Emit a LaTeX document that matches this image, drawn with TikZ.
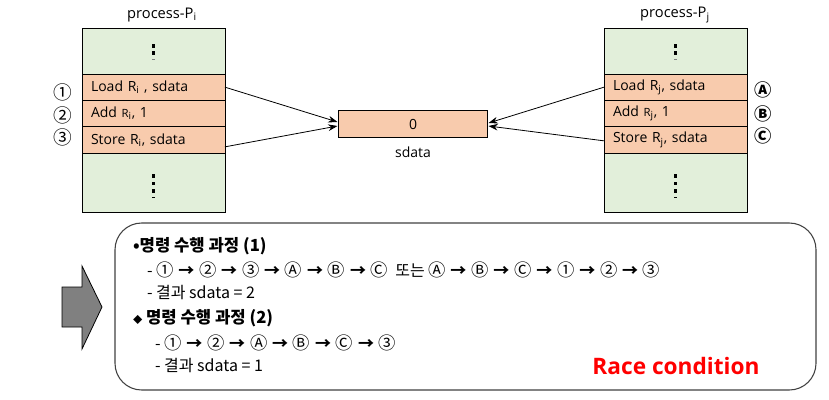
\documentclass[tikz,border=0pt]{standalone}
\usepackage{fontspec}
\setmainfont{Open Sans}
\newfontfamily\kr{Noto Sans CJK KR}
\definecolor{stackfill}{RGB}{226, 239, 218}
\definecolor{instfill}{RGB}{248, 203, 173}
\definecolor{racered}{RGB}{255, 0, 0}
\usetikzlibrary{arrows.meta, positioning, calc}
\newcommand\nx{\hspace{0.3em}{\bfseries →}\hspace{0.3em}}
\newcommand\cc[1]{{\fontsize{13}{12}\selectfont #1}}

\begin{document}
\begin{tikzpicture}[x=0.75pt, y=-0.75pt,
    every node/.style={outer sep=0pt},
    stack/.style={draw, line width=0.6pt, fill=stackfill, minimum width=107.25pt, inner sep=0pt},
    instr/.style={draw, line width=0.6pt, fill=instfill, minimum width=107.25pt, minimum height=19.75pt,
        text width=93.75pt, inner xsep=6.75pt, inner ysep=0pt, align=left, font=\fontsize{10.5}{12}\selectfont},
    order/.style={font=\kr\fontsize{14}{14}\selectfont},
    link/.style={-{Stealth[length=7pt, width=5pt]}, line width=0.6pt},
    step line/.style={anchor=west, inner sep=0pt, font=\kr\fontsize{12}{14}\selectfont}]
    \useasboundingbox (0,0) rectangle (829,400);

    % process P_i
    \node[font=\fontsize{11}{13}\selectfont] (pititle) at (162,15) {process-P\textsubscript{i}};
    \node[stack, minimum height=34.5pt] (pitop) at (153.5,51) {};
    \node[instr, below=0pt of pitop] (piload) {Load R\textsubscript{i} , sdata};
    \node[instr, below=0pt of piload] (piadd) {Add {\fontsize{8.5}{10}\selectfont R}\textsubscript{i}, 1};
    \node[instr, below=0pt of piadd] (pistore) {Store R\textsubscript{i}, sdata};
    \node[stack, minimum height=44.25pt, below=0pt of pistore] (pibot) {};
    \node[order] (o1) at (63,92) {①};
    \node[order] (o2) at (63,115) {②};
    \node[order] (o3) at (63,137) {③};

    % process P_j
    \node[font=\fontsize{11}{13}\selectfont] (pjtitle) at (675,15) {process-P\textsubscript{j}};
    \node[stack, minimum height=34.5pt] (pjtop) at (675.5,51) {};
    \node[instr, below=0pt of pjtop] (pjload) {Load R\textsubscript{j}, sdata};
    \node[instr, below=0pt of pjload] (pjadd) {Add {\fontsize{8.5}{10}\selectfont R}\textsubscript{j}, 1};
    \node[instr, below=0pt of pjadd] (pjstore) {Store R\textsubscript{j}, sdata};
    \node[stack, minimum height=44.25pt, below=0pt of pjstore] (pjbot) {};
    \node[order, font=\kr\bfseries\fontsize{13}{13}\selectfont] (oa) at (763,90) {Ⓐ};
    \node[order, font=\kr\bfseries\fontsize{13}{13}\selectfont] (ob) at (763,114) {Ⓑ};
    \node[order, font=\kr\bfseries\fontsize{13}{13}\selectfont] (oc) at (763,136) {Ⓒ};

    % dots
    \foreach \xx in {153.5, 675.5} {
        \foreach \yy in {46, 53} \fill (\xx-1.6,\yy-1.6) rectangle ++(3.2,3.2);
        \fill[gray] (\xx-1.6,59) rectangle ++(3.2,1.2);
        \foreach \yy in {176, 183.5, 191} \fill (\xx-1.6,\yy-1.6) rectangle ++(3.2,3.2);
        \fill (\xx-1.6,197) rectangle ++(3.2,1.2);
    }

    % shared data
    \node[instr, minimum width=111.75pt, text width=98.25pt, minimum height=20.25pt, align=center] (sd) at (413,124) {0};
    \node[below=4pt of sd, font=\fontsize{10.5}{12}\selectfont] (sdlabel) {sdata};

    \draw[link] (piload.east) -- ($(sd.west)+(-1,-2)$);
    \draw[link] ($(pistore.east)+(0,7)$) -- ($(sd.west)+(-1,2)$);
    \draw[link] (pjload.west) -- ($(sd.east)+(1,-1)$);
    \draw[link] ($(pjstore.west)+(0,1)$) -- ($(sd.east)+(1,2)$);

    % result
    \draw[fill=gray, line width=0.6pt] (62,287) -- (82,287) -- (82,266) -- (102,307) -- (82,349) -- (82,327) -- (62,327) -- cycle;
    \draw[black!75, line width=0.8pt, rounded corners=20pt] (115,223) rectangle (816,390);

    \node[step line, font=\kr\bfseries\fontsize{12.5}{14}\selectfont] (h1) at (133,246) {•명령 수행 과정 (1)};
    \node[step line] (s1) at (147,270) {- \cc{①}\nx\cc{②}\nx\cc{③}\nx\cc{Ⓐ}\nx\cc{Ⓑ}\nx\cc{Ⓒ}\ \ 또는 \cc{Ⓐ}\nx\cc{Ⓑ}\nx\cc{Ⓒ}\nx\cc{①}\nx\cc{②}\nx\cc{③}};
    \node[step line] (r1) at (147,293) {- 결과 sdata = 2};
    \node[step line, font=\kr\bfseries\fontsize{12.5}{14}\selectfont] (h2) at (133,318) {{\fontsize{7}{7}\selectfont ◆} 명령 수행 과정 (2)};
    \node[step line] (s2) at (155,343) {- \cc{①}\nx\cc{②}\nx\cc{Ⓐ}\nx\cc{Ⓑ}\nx\cc{Ⓒ}\nx\cc{③}};
    \node[step line] (r2) at (155,366) {- 결과 sdata = 1};
    \node[anchor=west, text=racered, font=\bfseries\fontsize{17}{20}\selectfont] (race) at (588,366) {Race condition};
\end{tikzpicture}
\end{document}
